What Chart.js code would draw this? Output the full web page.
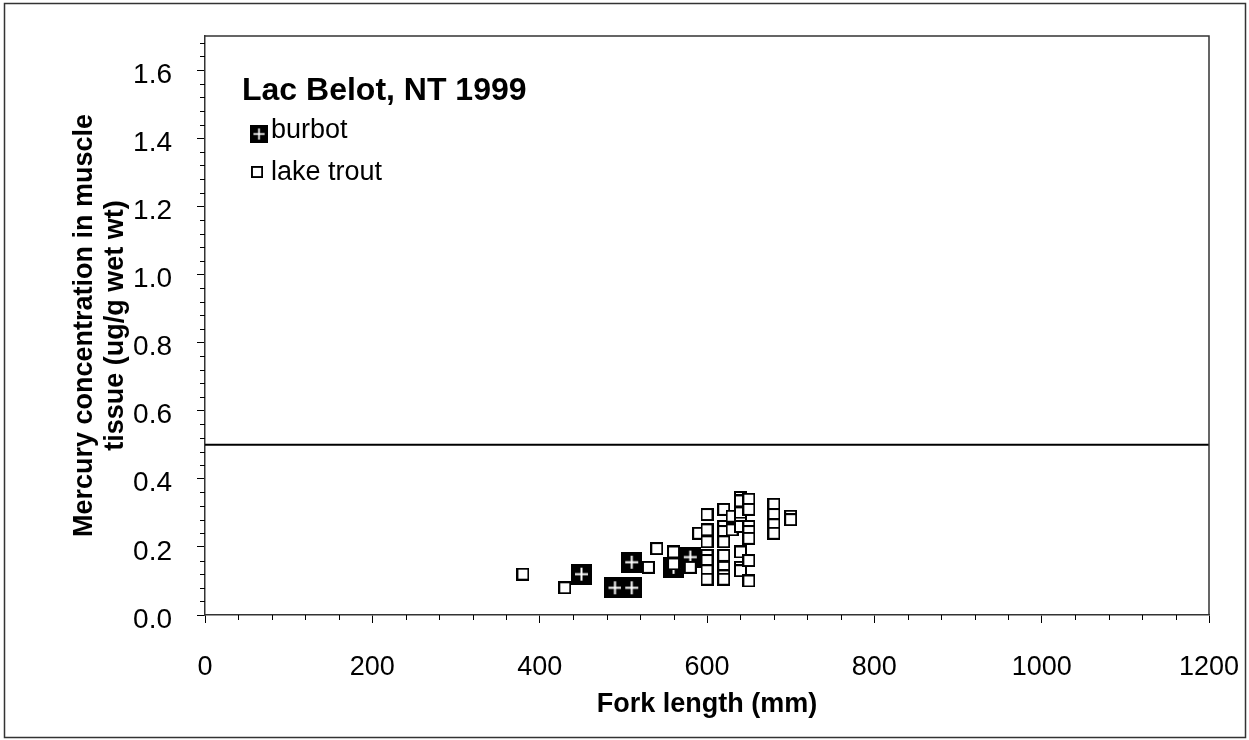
<!DOCTYPE html>
<html>
<head>
<meta charset="utf-8">
<script src="https://cdn.jsdelivr.net/npm/chart.js@4.4.0/dist/chart.umd.min.js"></script>
<style>
  body { margin: 0; background: #fff; }
  #wrap { width: 1249px; height: 740px; position: relative; }
</style>
</head>
<body>
<div id="wrap"><canvas id="myChart"></canvas></div>
<script>
// burbot
var burbotLength = [450, 490, 510, 510, 560, 580];
var burbotHg = [0.12, 0.08, 0.08, 0.155, 0.14, 0.17];

// lake trout
var troutLength = [380, 430, 530, 540, 560, 560, 580, 590,
  600, 600, 600, 600, 600, 600, 600,
  620, 620, 620, 620, 620, 620, 620, 620,
  630, 630,
  640, 640, 640, 640, 640, 640, 640, 640,
  650, 650, 650, 650, 650, 650, 650,
  680, 680, 680, 680,
  700, 700];
var troutHg = [0.12, 0.08, 0.14, 0.195, 0.185, 0.15, 0.14, 0.24,
  0.295, 0.25, 0.215, 0.175, 0.16, 0.13, 0.105,
  0.31, 0.26, 0.245, 0.215, 0.175, 0.14, 0.115, 0.105,
  0.29, 0.25,
  0.345, 0.335, 0.30, 0.27, 0.26, 0.185, 0.14, 0.13,
  0.34, 0.31, 0.26, 0.245, 0.225, 0.16, 0.10,
  0.325, 0.295, 0.265, 0.24,
  0.29, 0.28];

// 0.5 ug/g guideline
var limitX = [0, 1200];
var limitY = [0.5, 0.5];

var xTicks = [0, 200, 400, 600, 800, 1000, 1200];
var yTicks = [0.0, 0.2, 0.4, 0.6, 0.8, 1.0, 1.2, 1.4, 1.6];

function pts(xs, ys) {
  return xs.map(function(x, i){ return {x: x, y: ys[i]}; });
}

// marker images
function burbotMark() {
  var c = document.createElement('canvas');
  c.width = 21; c.height = 21;
  var g = c.getContext('2d');
  g.fillStyle = '#000';
  g.fillRect(0, 0, 21, 21);
  g.strokeStyle = '#fff';
  g.lineWidth = 2;
  g.beginPath();
  g.moveTo(4, 10.5); g.lineTo(17, 10.5);
  g.moveTo(10.5, 4); g.lineTo(10.5, 17);
  g.stroke();
  return c;
}
function troutMark() {
  var c = document.createElement('canvas');
  c.width = 13; c.height = 13;
  var g = c.getContext('2d');
  g.fillStyle = '#fff';
  g.fillRect(0, 0, 13, 13);
  g.strokeStyle = '#000';
  g.lineWidth = 2;
  g.strokeRect(1, 1, 11, 11);
  return c;
}
var bMark = burbotMark();
var tMark = troutMark();

var font = 'Arial, "Liberation Sans", sans-serif';

// frame, plot border, minor ticks, title and legend
var extras = {
  id: 'extras',
  beforeDraw: function(chart) {
    var ctx = chart.ctx;
    ctx.save();
    ctx.fillStyle = '#fff';
    ctx.fillRect(0, 0, chart.width, chart.height);
    ctx.strokeStyle = '#333';
    ctx.lineWidth = 1.5;
    ctx.strokeRect(4.5, 3.5, 1241, 734);
    ctx.restore();
  },
  afterDraw: function(chart) {
    var ctx = chart.ctx, a = chart.chartArea;
    var xs = chart.scales.x, ys = chart.scales.y;
    ctx.save();
    ctx.strokeStyle = '#333';
    ctx.lineWidth = 1.5;
    ctx.beginPath();
    ctx.moveTo(a.left, a.top); ctx.lineTo(a.right, a.top); ctx.lineTo(a.right, a.bottom);
    ctx.stroke();

    ctx.strokeStyle = '#000';
    ctx.lineWidth = 1;
    ctx.beginPath();
    for (var v = 40; v < 1200; v += 40) {
      if (v % 200 === 0) continue;
      var px = Math.round(xs.getPixelForValue(v)) + 0.5;
      ctx.moveTo(px, a.bottom); ctx.lineTo(px, a.bottom + 5);
    }
    for (var k = 1; k <= 42; k++) {
      if (k % 5 === 0) continue;
      var py = Math.round(ys.getPixelForValue(k * 0.04)) + 0.5;
      ctx.moveTo(a.left, py); ctx.lineTo(a.left - 5, py);
    }
    ctx.stroke();

    ctx.fillStyle = '#000';
    ctx.textBaseline = 'alphabetic';
    ctx.font = 'bold 32px ' + font;
    ctx.fillText('Lac Belot, NT 1999', 242, 100);
    ctx.font = '27px ' + font;
    ctx.drawImage(bMark, 250, 125, 18, 18);
    ctx.fillText('burbot', 271, 138);
    ctx.drawImage(tMark, 251, 166, 12, 12);
    ctx.fillText('lake trout', 271, 180);
    ctx.restore();
  }
};

var ctx = document.getElementById('myChart');
var chart = new Chart(ctx, {
  type: 'scatter',
  data: {
    datasets: [
      {
        label: 'burbot',
        data: pts(burbotLength, burbotHg),
        pointStyle: bMark,
        order: 2
      },
      {
        label: 'lake trout',
        data: pts(troutLength, troutHg),
        pointStyle: tMark,
        order: 1
      },
      {
        label: 'guideline',
        data: pts(limitX, limitY),
        showLine: true,
        borderColor: '#000',
        borderWidth: 2,
        pointRadius: 0,
        order: 3
      }
    ]
  },
  plugins: [extras],
  options: {
    responsive: true,
    maintainAspectRatio: false,
    animation: false,
    layout: { padding: { top: 36, right: 40, left: 0, bottom: 0 } },
    plugins: {
      legend: { display: false },
      tooltip: { enabled: false }
    },
    scales: {
      x: {
        type: 'linear',
        min: 0, max: 1200,
        afterBuildTicks: function(s){ s.ticks = xTicks.map(function(v){ return {value: v}; }); },
        afterFit: function(s){ s.height = 125; s.paddingLeft = 0; s.paddingRight = 0; },
        grid: { drawOnChartArea: false, drawTicks: true, tickLength: 8, color: '#000', lineWidth: 1 },
        border: { color: '#333', width: 1.5 },
        ticks: {
          color: '#000', font: { family: font, size: 27 }, padding: 28, maxRotation: 0,
          callback: function(v){ return String(v); }
        },
        title: {
          display: true, text: 'Fork length (mm)', color: '#000',
          font: { family: font, size: 27, weight: 'bold', lineHeight: 1.2 },
          padding: { top: 0, bottom: 19 }
        }
      },
      y: {
        type: 'linear',
        min: 0, max: 1.7,
        afterBuildTicks: function(s){ s.ticks = yTicks.map(function(v){ return {value: v}; }); },
        afterFit: function(s){ s.width = 205; s.paddingTop = 0; s.paddingBottom = 0; },
        grid: { drawOnChartArea: false, drawTicks: true, tickLength: 8, color: '#000', lineWidth: 1 },
        border: { color: '#333', width: 1.5 },
        ticks: {
          color: '#000', font: { family: font, size: 28 }, padding: 25, labelOffset: 5,
          callback: function(v){ return v.toFixed(1); }
        },
        title: {
          display: true,
          text: ['Mercury concentration in muscle', 'tissue (ug/g wet wt)'],
          color: '#000',
          font: { family: font, size: 27, weight: 'bold', lineHeight: 1.15 },
          padding: { top: 69, bottom: 0 }
        }
      }
    }
  }
});
</script>
</body>
</html>
